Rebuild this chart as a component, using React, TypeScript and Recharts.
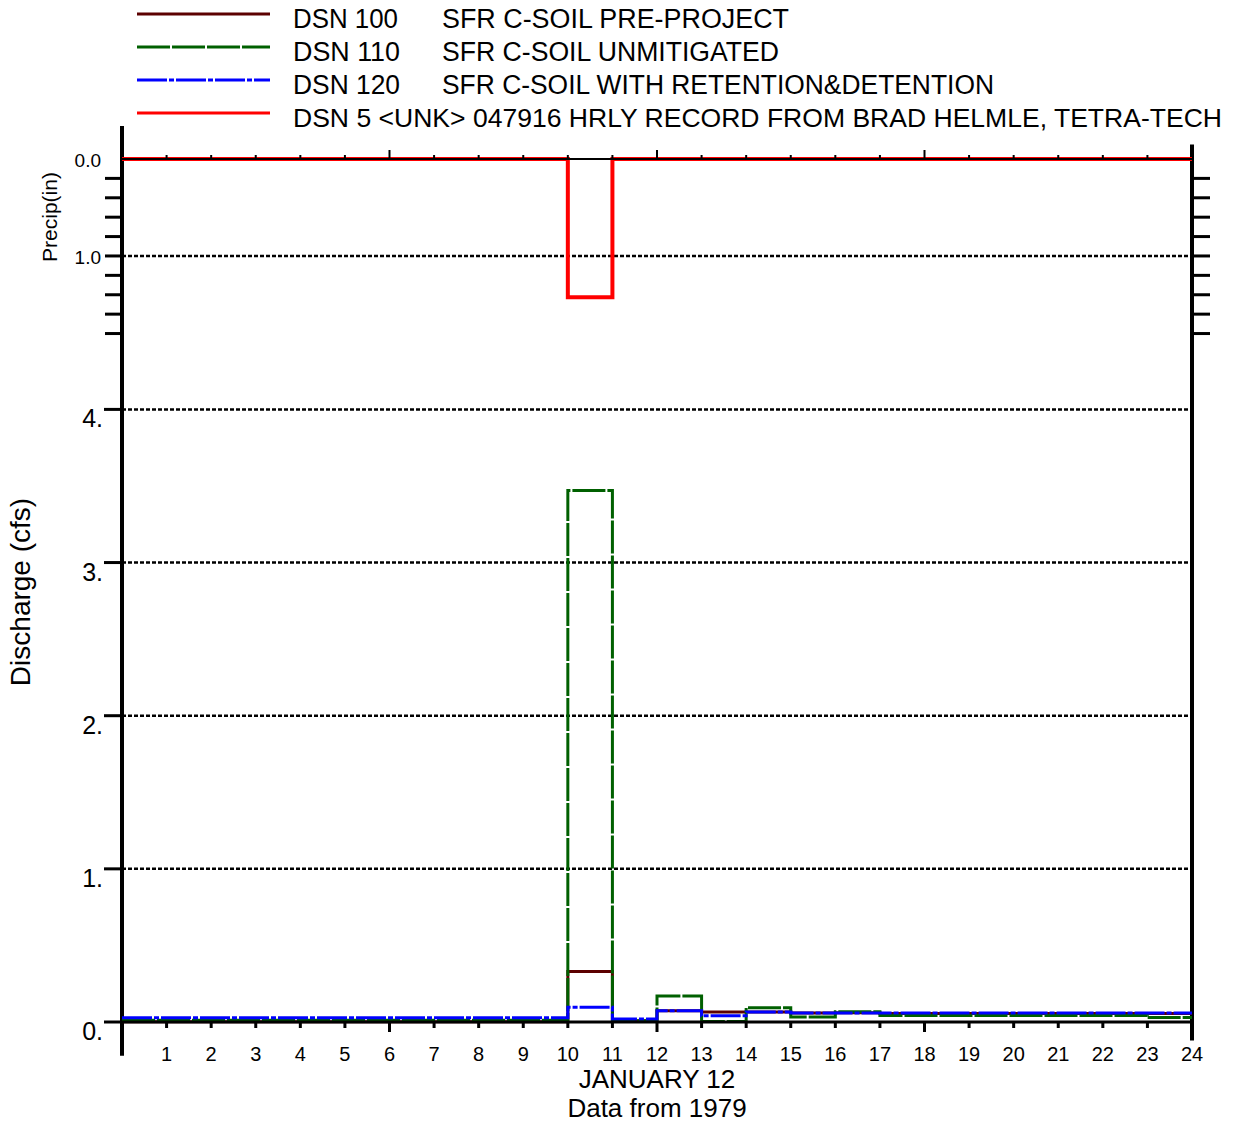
import React from 'react';
import { ComposedChart, Line, XAxis, YAxis, ReferenceLine, Label } from 'recharts';

// hourly values, January 12 (last point repeats hour 23 so the step closes at 24)
const hours = [0, 1, 2, 3, 4, 5, 6, 7, 8, 9, 10, 11, 12, 13, 14, 15, 16, 17, 18, 19, 20, 21, 22, 23, 24];
const dsn100 = [0.002, 0.002, 0.002, 0.002, 0.002, 0.002, 0.002, 0.002, 0.002, 0.002, 0.33, 0.008, 0.074, 0.065, 0.066, 0.058, 0.06, 0.056, 0.056, 0.056, 0.056, 0.056, 0.056, 0.056, 0.056];
const dsn110 = [0.012, 0.012, 0.012, 0.012, 0.012, 0.012, 0.012, 0.012, 0.012, 0.012, 3.47, 0.008, 0.17, 0.003, 0.093, 0.032, 0.067, 0.042, 0.042, 0.042, 0.042, 0.042, 0.042, 0.03, 0.03];
const dsn120 = [0.028, 0.028, 0.028, 0.028, 0.028, 0.028, 0.028, 0.028, 0.028, 0.028, 0.096, 0.02, 0.074, 0.041, 0.066, 0.058, 0.058, 0.058, 0.058, 0.058, 0.058, 0.058, 0.058, 0.058, 0.058];
const precip = [0, 0, 0, 0, 0, 0, 0, 0, 0, 0, 1.426, 0, 0, 0, 0, 0, 0, 0, 0, 0, 0, 0, 0, 0, 0];

const flowTicks = [0, 1, 2, 3, 4];
const flowGrid = [1, 2, 3, 4];
const precipTicks = [0, 0.2, 0.4, 0.6, 0.8, 1.0, 1.2, 1.4, 1.6, 1.8];
const precipLabeled = [0, 1];
const precipGrid = [1];
const majorHours = [6, 12, 18];

const legendCodes = ['DSN 100', 'DSN 110', 'DSN 120'];
const legendNames = ['SFR C-SOIL PRE-PROJECT', 'SFR C-SOIL UNMITIGATED', 'SFR C-SOIL WITH RETENTION&DETENTION'];
const precipLegend = 'DSN 5 <UNK> 047916 HRLY RECORD FROM BRAD HELMLE, TETRA-TECH';

const FONT = '"Liberation Sans", Arial, Helvetica, sans-serif';

const data = hours.map((h, i) => ({
  hour: h,
  q100: dsn100[i],
  q110: dsn110[i],
  q120: dsn120[i],
  p: precip[i],
}));

const lineStyles = [
  { key: 'q100', stroke: '#5c0000', dash: undefined },
  { key: 'q110', stroke: '#006000', dash: '33 2' },
  { key: 'q120', stroke: '#0000ff', dash: '30 2 5 2' },
];

const BottomTick = (props: any) => {
  const { x, y, payload } = props;
  const v = payload.value;
  const len = majorHours.includes(v) ? 10 : 6;
  return (
    <g>
      {v > 0 && v < 24 && <line x1={x} x2={x} y1={y} y2={y + len} stroke="#000" strokeWidth={3} />}
      {v > 0 && (
        <text x={x} y={y + 39} textAnchor="middle" fontSize={20} fontFamily={FONT} fill="#000">
          {v}
        </text>
      )}
    </g>
  );
};

const TopTick = (props: any) => {
  const { x, y, payload } = props;
  const v = payload.value;
  if (v <= 0 || v >= 24) return <g />;
  const len = majorHours.includes(v) ? 9 : 4;
  return <line x1={x} x2={x} y1={y} y2={y - len} stroke="#000" strokeWidth={2} />;
};

const FlowTick = (props: any) => {
  const { x, y, payload } = props;
  return (
    <g>
      <line x1={x - 17} x2={x} y1={y} y2={y} stroke="#000" strokeWidth={3} />
      <text x={x - 18} y={y + 18} textAnchor="end" fontSize={25} fontFamily={FONT} fill="#000">
        {payload.value + '.'}
      </text>
    </g>
  );
};

const PrecipTickLeft = (props: any) => {
  const { x, y, payload } = props;
  const v = payload.value;
  return (
    <g>
      {v > 0 && <line x1={x - 17} x2={x} y1={y} y2={y} stroke="#000" strokeWidth={3} />}
      {precipLabeled.includes(v) && (
        <text x={x - 21} y={y + 8} textAnchor="end" fontSize={19} fontFamily={FONT} fill="#000">
          {v.toFixed(1)}
        </text>
      )}
    </g>
  );
};

const PrecipTickRight = (props: any) => {
  const { x, y, payload } = props;
  if (payload.value <= 0) return <g />;
  return <line x1={x} x2={x + 18} y1={y} y2={y} stroke="#000" strokeWidth={3} />;
};

function ChartLegend() {
  const codeWidths = [105, 107, 107];
  const nameWidths = [347, 337, 552];
  return (
    <svg width={1239} height={140} style={{ position: 'absolute', left: 0, top: 0 }}>
      {legendCodes.map((c, i) => (
        <g key={c}>
          <line
            x1={137}
            x2={270}
            y1={14 + i * 33}
            y2={14 + i * 33}
            stroke={lineStyles[i].stroke}
            strokeWidth={3}
            strokeDasharray={lineStyles[i].dash}
          />
          <text x={293} y={28 + i * 33} fontSize={27} fontFamily={FONT} textLength={codeWidths[i]} lengthAdjust="spacingAndGlyphs">
            {c}
          </text>
          <text x={442} y={28 + i * 33} fontSize={27} fontFamily={FONT} textLength={nameWidths[i]} lengthAdjust="spacingAndGlyphs">
            {legendNames[i]}
          </text>
        </g>
      ))}
      <line x1={137} x2={270} y1={113} y2={113} stroke="#ff0000" strokeWidth={3} />
      <text x={293} y={127} fontSize={26} fontFamily={FONT} textLength={929} lengthAdjust="spacingAndGlyphs">
        {precipLegend}
      </text>
    </svg>
  );
}

export default function App() {
  return (
    <div style={{ position: 'absolute', left: 0, top: 0, width: 1239, height: 1126, background: '#fff' }}>
      <ComposedChart
        width={1239}
        height={1126}
        data={data}
        margin={{ top: 158, right: 46, bottom: 103, left: 120 }}
      >
        <XAxis
          dataKey="hour"
          type="number"
          domain={[0, 24]}
          ticks={hours}
          interval={0}
          height={1}
          tickSize={0}
          tickMargin={0}
          tickLine={false}
          tick={<BottomTick />}
          axisLine={{ stroke: '#000', strokeWidth: 3 }}
        >
          <Label
            content={(p: any) => {
              const vb = p.viewBox;
              const cx = vb.x + vb.width / 2;
              return (
                <g>
                  <text x={cx} y={vb.y + 66} textAnchor="middle" fontSize={26} fontFamily={FONT}>JANUARY 12</text>
                  <text x={cx} y={vb.y + 95} textAnchor="middle" fontSize={26} fontFamily={FONT}>Data from 1979</text>
                </g>
              );
            }}
          />
        </XAxis>
        <XAxis
          xAxisId="top"
          dataKey="hour"
          type="number"
          orientation="top"
          domain={[0, 24]}
          ticks={hours}
          interval={0}
          height={1}
          tickSize={0}
          tickMargin={0}
          tickLine={false}
          tick={<TopTick />}
          axisLine={{ stroke: '#000', strokeWidth: 2 }}
        />
        <YAxis
          yAxisId="q"
          type="number"
          domain={[0, 5.635]}
          ticks={flowTicks}
          interval={0}
          width={1}
          tickSize={0}
          tickMargin={0}
          tickLine={false}
          axisLine={false}
          tick={<FlowTick />}
        >
          <Label
            content={(p: any) => {
              const vb = p.viewBox;
              const lx = vb.x - 90;
              const cy = 592;
              return (
                <text x={lx} y={cy} transform={`rotate(-90 ${lx} ${cy})`} textAnchor="middle" fontSize={28} fontFamily={FONT}>
                  Discharge (cfs)
                </text>
              );
            }}
          />
        </YAxis>
        <YAxis
          yAxisId="p"
          type="number"
          reversed
          domain={[0, 8.9]}
          ticks={precipTicks}
          interval={0}
          width={1}
          tickSize={0}
          tickMargin={0}
          tickLine={false}
          axisLine={false}
          tick={<PrecipTickLeft />}
        >
          <Label
            content={(p: any) => {
              const vb = p.viewBox;
              const lx = vb.x - 64;
              const cy = 217;
              return (
                <text x={lx} y={cy} transform={`rotate(-90 ${lx} ${cy})`} textAnchor="middle" fontSize={21} fontFamily={FONT}>
                  Precip(in)
                </text>
              );
            }}
          />
        </YAxis>
        <YAxis
          yAxisId="pr"
          orientation="right"
          type="number"
          reversed
          domain={[0, 8.9]}
          ticks={precipTicks}
          interval={0}
          width={1}
          tickSize={0}
          tickMargin={0}
          tickLine={false}
          axisLine={false}
          tick={<PrecipTickRight />}
        />

        {flowGrid.map((v) => (
          <ReferenceLine key={'g' + v} yAxisId="q" y={v} stroke="#000" strokeWidth={2.5} strokeDasharray="4 2" />
        ))}
        {precipGrid.map((v) => (
          <ReferenceLine key={'pg' + v} yAxisId="p" y={v} stroke="#000" strokeWidth={2.5} strokeDasharray="4 2" />
        ))}
        {/* frame: left and right axes run past the plot */}
        <ReferenceLine
          yAxisId="q"
          ifOverflow="visible"
          segment={[{ x: 0, y: -0.22 }, { x: 0, y: 5.85 }]}
          stroke="#000"
          strokeWidth={4}
        />
        <ReferenceLine
          yAxisId="q"
          ifOverflow="visible"
          segment={[{ x: 24, y: -0.12 }, { x: 24, y: 5.73 }]}
          stroke="#000"
          strokeWidth={4}
        />

        {lineStyles.map((s) => (
          <Line
            key={s.key}
            yAxisId="q"
            type="stepAfter"
            dataKey={s.key}
            stroke={s.stroke}
            strokeWidth={3}
            strokeDasharray={s.dash}
            dot={false}
            isAnimationActive={false}
          />
        ))}
        {/* invisible copy so the right-hand precip scale gets drawn */}
        <Line
          yAxisId="pr"
          type="stepAfter"
          dataKey="p"
          stroke="none"
          dot={false}
          activeDot={false}
          isAnimationActive={false}
        />
        <Line
          yAxisId="p"
          type="stepAfter"
          dataKey="p"
          stroke="#ff0000"
          strokeWidth={4}
          dot={false}
          isAnimationActive={false}
        />
      </ComposedChart>
      <ChartLegend />
    </div>
  );
}
